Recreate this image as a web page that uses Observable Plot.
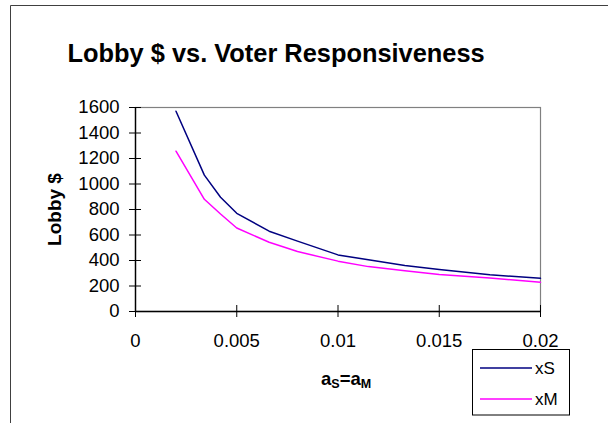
<!DOCTYPE html>
<html>
<head>
<meta charset="utf-8">
<script src="https://cdn.jsdelivr.net/npm/d3@7"></script>
<script src="https://cdn.jsdelivr.net/npm/@observablehq/plot@0.6"></script>
<style>
  html, body { margin: 0; padding: 0; background: #fff; overflow: hidden; width: 608px; height: 423px; }
  #plot { position: absolute; left: 0; top: 0; width: 608px; height: 423px; overflow: hidden; }
  #plot svg { display: block; }
</style>
</head>
<body>
<div id="plot"></div>
<script>
// Voter responsiveness (a_S = a_M)
const aValues = [0.002, 0.0034, 0.0042, 0.005, 0.0066, 0.008, 0.01, 0.0115, 0.0133, 0.015, 0.0175, 0.02];
// Lobby spending for each side
const xS = [1571, 1070, 896, 770, 630, 552, 444, 405, 361, 329, 288, 261];
const xM = [1257, 880, 765, 655, 543, 470, 395, 352, 320, 290, 262, 230];

const seriesNames = ["xS", "xM"];
const seriesColors = ["#000080", "#FF00FF"];

const xTicks = [0, 0.005, 0.01, 0.015, 0.02];
const xTickLabels = ["0", "0.005", "0.01", "0.015", "0.02"];
const yTicks = [0, 200, 400, 600, 800, 1000, 1200, 1400, 1600];
const yTickLabels = ["0", "200", "400", "600", "800", "1000", "1200", "1400", "1600"];

const rows = [];
aValues.forEach((a, i) => {
  rows.push({a, v: xS[i], s: seriesNames[0]});
  rows.push({a, v: xM[i], s: seriesNames[1]});
});

const xLab = new Map(xTicks.map((t, i) => [t, xTickLabels[i]]));
const yLab = new Map(yTicks.map((t, i) => [t, yTickLabels[i]]));
const font = "'Liberation Sans', Arial, sans-serif";

const chart = Plot.plot({
  width: 608,
  height: 423,
  marginLeft: 135,
  marginRight: 68,
  marginTop: 107,
  marginBottom: 112,
  style: {fontFamily: font, fontSize: "18.5px", background: "transparent", color: "#000", overflow: "hidden"},
  x: {domain: [0, 0.02]},
  y: {domain: [0, 1600]},
  color: {domain: seriesNames, range: seriesColors},
  marks: [
    Plot.frame({stroke: "#808080", strokeWidth: 1.2}),
    Plot.line(rows, {x: "a", y: "v", z: "s", stroke: "s", strokeWidth: 1.5}),
    Plot.ruleY([0], {stroke: "#000", strokeWidth: 1.4}),
    Plot.ruleX([0], {stroke: "#000", strokeWidth: 1.4}),
    Plot.ruleX(xTicks, {x: d => d, y1: () => 0, y2: () => 0, insetTop: -6, insetBottom: -6, stroke: "#000", strokeWidth: 1}),
    Plot.ruleY(yTicks, {y: d => d, x1: () => 0, x2: () => 0, insetLeft: -6, insetRight: -6, stroke: "#000", strokeWidth: 1}),
    Plot.axisX({ticks: xTicks, tickSize: 0, tickPadding: 22, tickFormat: d => xLab.get(d), label: null, fontSize: 18.5}),
    Plot.axisY({ticks: yTicks, tickSize: 0, tickPadding: 16, tickFormat: d => yLab.get(d), label: null, fontSize: 18.5})
  ]
});

document.getElementById("plot").appendChild(chart);

const svg = d3.select(chart);

// Chart area border (continues past the right and bottom edges)
svg.insert("path", ":first-child")
  .attr("d", "M10.5,430V5.5H620")
  .attr("fill", "none").attr("stroke", "#404040").attr("stroke-width", 1);

// Title
svg.append("text")
  .attr("x", 67.5).attr("y", 62)
  .attr("text-anchor", "start")
  .attr("font-family", font).attr("font-size", 25.4).attr("font-weight", "bold")
  .attr("fill", "#000")
  .text("Lobby $ vs. Voter Responsiveness");

// Y axis title
svg.append("text")
  .attr("transform", "translate(61,209.5) rotate(-90)")
  .attr("text-anchor", "middle")
  .attr("font-family", font).attr("font-size", 19).attr("font-weight", "bold")
  .attr("fill", "#000")
  .text("Lobby $");

// X axis title with subscripts
const xt = svg.append("text")
  .attr("x", 321).attr("y", 385)
  .attr("text-anchor", "start")
  .attr("font-family", font).attr("font-size", 18.5).attr("font-weight", "bold")
  .attr("fill", "#000");
xt.append("tspan").text("a");
xt.append("tspan").attr("font-size", 12.5).attr("dy", 3).text("S");
xt.append("tspan").attr("dy", -3).text("=a");
xt.append("tspan").attr("font-size", 12.5).attr("dy", 3).text("M");

// Legend
const lg = svg.append("g").attr("text-anchor", "start");
lg.append("rect")
  .attr("x", 472.5).attr("y", 349.5).attr("width", 97).attr("height", 65.5)
  .attr("fill", "#fff").attr("stroke", "#000").attr("stroke-width", 1);
const legendRows = [368, 399];
seriesNames.forEach((name, i) => {
  lg.append("line")
    .attr("x1", 480).attr("x2", 532)
    .attr("y1", legendRows[i]).attr("y2", legendRows[i])
    .attr("stroke", seriesColors[i]).attr("stroke-width", 1.5);
  lg.append("text")
    .attr("x", 535).attr("y", legendRows[i] + 6)
    .attr("font-family", font).attr("font-size", 17)
    .attr("fill", "#000")
    .text(name);
});
</script>
</body>
</html>
